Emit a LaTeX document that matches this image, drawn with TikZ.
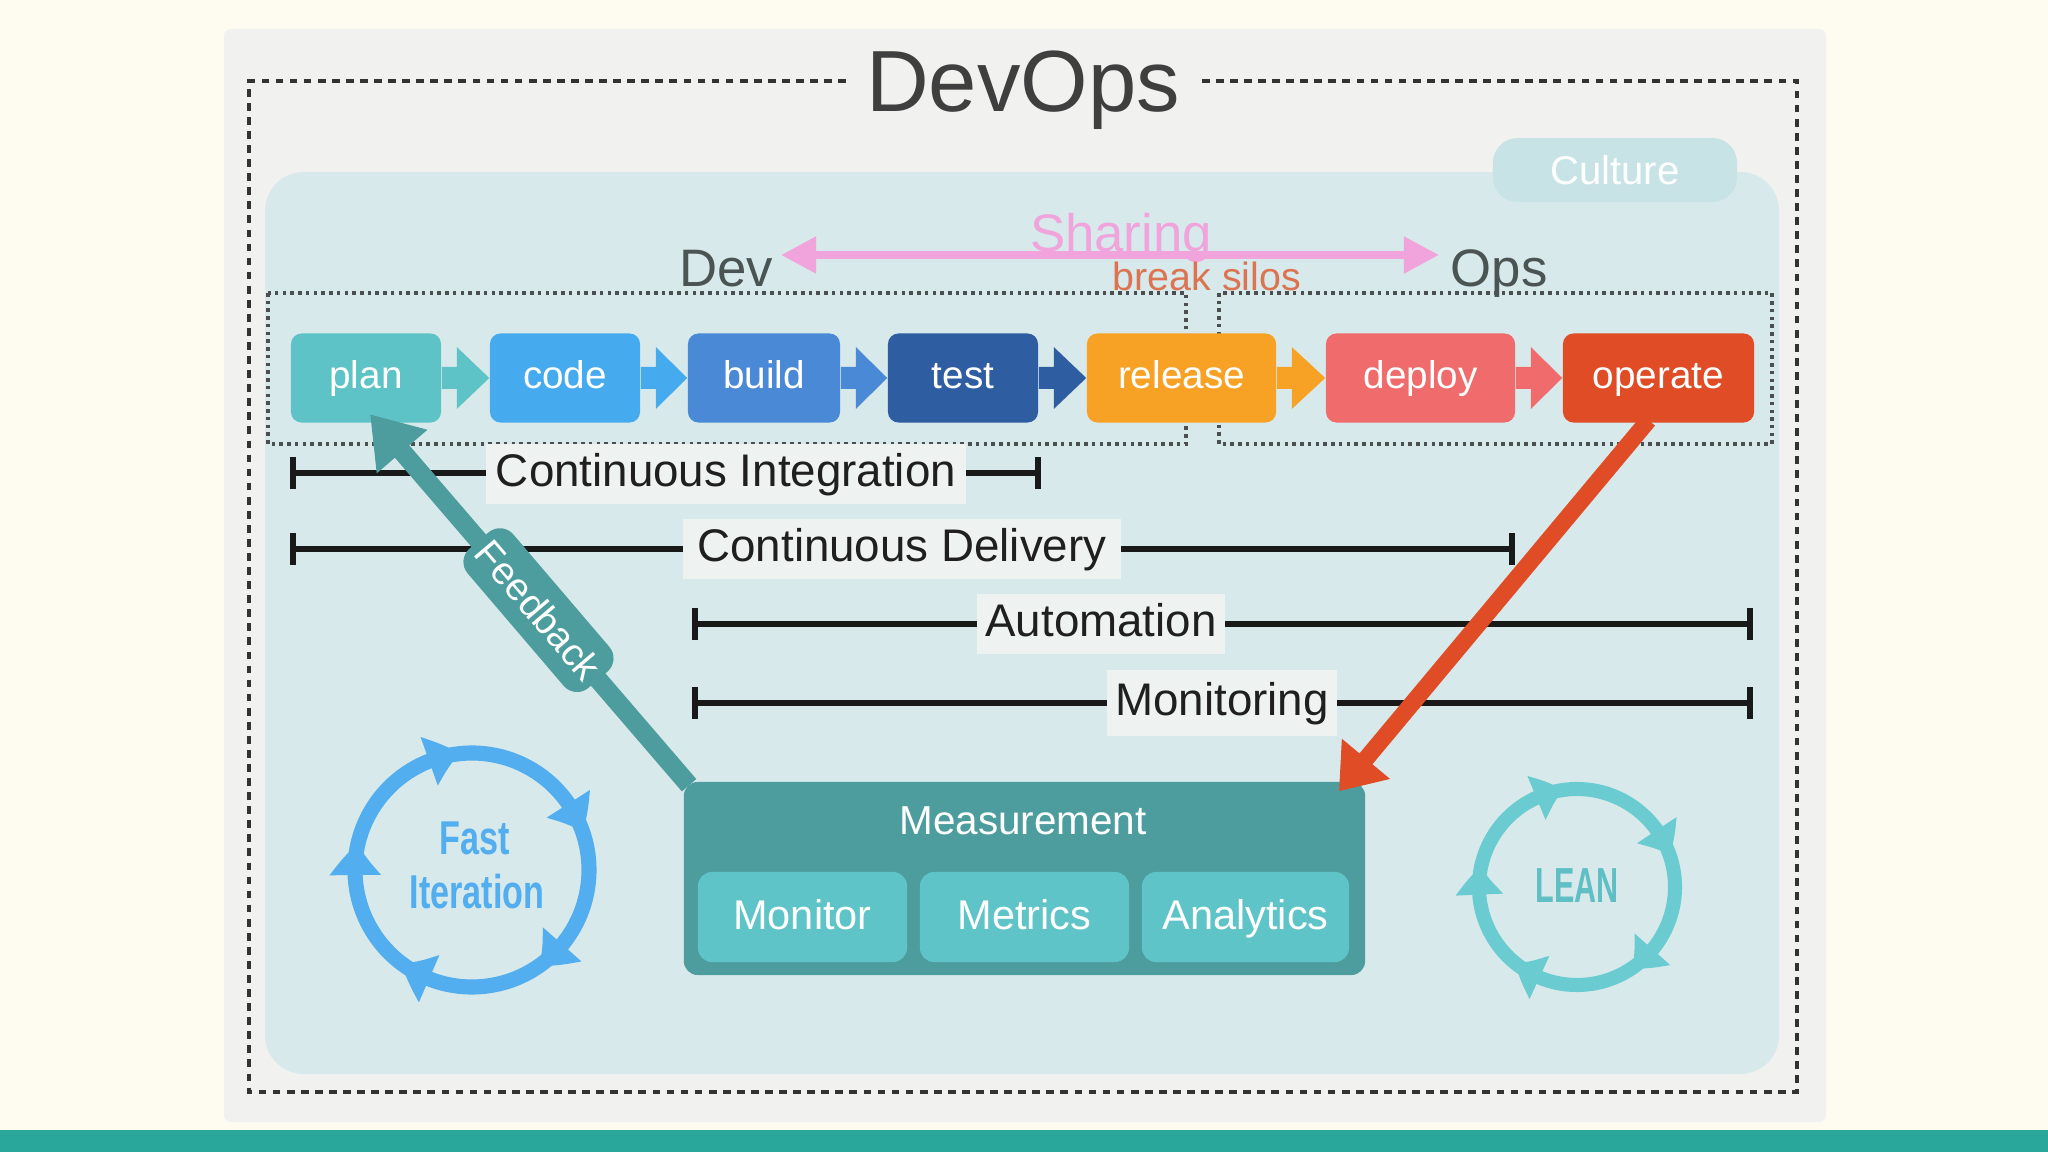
\documentclass[tikz,border=0pt]{standalone}
\usepackage{fontspec}
\setmainfont{Liberation Sans}
\usetikzlibrary{arrows.meta,calc,bending}

\definecolor{cbg}{HTML}{FEFBF0}
\definecolor{cband}{HTML}{29A79B}
\definecolor{cpanel}{HTML}{F1F2F0}
\definecolor{cregion}{HTML}{D8E9EB}
\definecolor{cculture}{HTML}{C8E3E5}
\definecolor{ctitle}{HTML}{3F3F3F}
\definecolor{cdev}{HTML}{4A5453}
\definecolor{cpink}{HTML}{F0A4DB}
\definecolor{cbreak}{HTML}{DC7452}
\definecolor{cplan}{HTML}{5DC3C6}
\definecolor{ccode}{HTML}{45AAEE}
\definecolor{cbuild}{HTML}{4A89D5}
\definecolor{ctest}{HTML}{2F5DA2}
\definecolor{crelease}{HTML}{F7A224}
\definecolor{cdeploy}{HTML}{EF6B6C}
\definecolor{coperate}{HTML}{E04C25}
\definecolor{clabel}{HTML}{EEF3F2}
\definecolor{cmeas}{HTML}{4D9D9E}
\definecolor{csub}{HTML}{5EC4C8}
\definecolor{cfast}{HTML}{52AEEE}
\definecolor{clean}{HTML}{6ACBD0}
\definecolor{cleantext}{HTML}{5FBFC4}
\definecolor{cdot}{HTML}{4A5050}

\begin{document}
\begin{tikzpicture}[x=0.01cm,y=-0.01cm,
  pbox/.style={rounded corners=3pt, minimum height=0.89cm, text=white,
    font=\fontsize{11}{13}\selectfont, text height=0.8em, text depth=0.2em, inner sep=0pt},
  barline/.style={line width=1.7pt, draw=black!90, arrows={Bar[width=9pt]-Bar[width=9pt]}},
  barlabel/.style={fill=clabel, text=black!88, font=\fontsize{13}{15}\selectfont,
    text height=0.86em, text depth=0.14em, inner sep=0pt},
  dotbox/.style={draw=cdot, line width=1pt, dash pattern=on 1pt off 1.2pt},
  subbox/.style={fill=csub, rounded corners=4pt, minimum height=0.90cm, text=white,
    font=\fontsize{11.8}{14}\selectfont, text height=0.86em, text depth=0.14em, inner sep=0pt},
  fastring/.style={draw=cfast, line width=4.3pt, -{Triangle[length=9pt,width=14pt,bend]}},
  leanring/.style={draw=clean, line width=4pt, -{Triangle[length=8pt,width=13pt,bend]}},
]
% background
\fill[cbg] (0,0) rectangle (2048,1152);
\fill[cband] (0,1130) rectangle (2048,1152);
\fill[cpanel, rounded corners=2pt] (224,29) rectangle (1826,1122);

% outer dashed frame with title gap
\draw[draw=black!80, line width=1.1pt, dash pattern=on 2.2pt off 1.8pt]
  (846,81) -- (249,81) -- (249,1092) -- (1797,1092) -- (1797,81) -- (1201,81);
\node[font=\fontsize{24.7}{28}\selectfont, text=ctitle, anchor=base] (title) at (1023,112) {DevOps};

% culture region
\fill[cregion, rounded corners=11pt] (265,172) rectangle (1779,1074);
\node[rounded corners=7pt, fill=cculture, minimum width=2.44cm, minimum height=0.64cm,
  text=white, font=\fontsize{11.4}{13}\selectfont, inner sep=0pt] (culture) at (1615,170) {Culture};

% dotted dev / ops frames
\draw[dotbox] (268,293) rectangle (1186,444);
\draw[dotbox] (1219,293) rectangle (1772,444);

% sharing
\coordinate (shl) at (781,255);
\coordinate (shr) at (1439,255);
\draw[draw=cpink, line width=2.2pt, {Triangle[length=10pt,width=10pt]}-{Triangle[length=10pt,width=10pt]}] (shl) -- (shr);
\node[anchor=base, font=\fontsize{15}{17}\selectfont, text=cpink] (sharing) at (1121,252) {Sharing};
\node[anchor=base, font=\fontsize{15}{17}\selectfont, text=cdev] (dev) at (726,287) {Dev};
\node[anchor=base, font=\fontsize{15}{17}\selectfont, text=cdev] (ops) at (1499,287) {Ops};
\node[anchor=base, font=\fontsize{11.2}{13}\selectfont, text=cbreak] (silos) at (1207,291) {break silos};

% process boxes
\node[pbox, fill=cplan, minimum width=1.50cm] (plan) at (366,378) {plan};
\node[pbox, fill=ccode, minimum width=1.50cm] (code) at (565,378) {code};
\node[pbox, fill=cbuild, minimum width=1.52cm] (build) at (764,378) {build};
\node[pbox, fill=ctest, minimum width=1.50cm] (test) at (963,378) {test};
\node[pbox, fill=crelease, minimum width=1.89cm] (release) at (1181.5,378) {release};
\node[pbox, fill=cdeploy, minimum width=1.89cm] (deploy) at (1420.5,378) {deploy};
\node[pbox, fill=coperate, minimum width=1.91cm] (operate) at (1658.5,378) {operate};

% chevrons
\foreach \a/\b/\c in {plan/code/cplan, code/build/ccode, build/test/cbuild,
                      test/release/ctest, release/deploy/crelease, deploy/operate/cdeploy}{
  \fill[\c] ($(\a.east)+(0,-11)$) -- ++(15,0) -- ++(0,-20) -- (\b.west)
            -- ($(\a.east)+(15,31)$) -- ++(0,-20) -- ($(\a.east)+(0,11)$) -- cycle;
}

% bars
\coordinate (cil) at (290,473); \coordinate (cir) at (1041,473);
\coordinate (cdl) at (290,549); \coordinate (cdr) at (1515,549);
\coordinate (aul) at (692,624); \coordinate (aur) at (1753,624);
\coordinate (mol) at (692,703); \coordinate (mor) at (1753,703);
\draw[barline] (cil) -- (cir);
\draw[barline] (cdl) -- (cdr);
\draw[barline] (aul) -- (aur);
\draw[barline] (mol) -- (mor);
\node[barlabel, minimum width=4.79cm, minimum height=0.60cm] (ci) at (726,474) {Continuous Integration};
\node[barlabel, minimum width=4.38cm, minimum height=0.59cm] (cd) at (902,549) {Continuous Delivery};
\node[barlabel, minimum width=2.48cm, minimum height=0.59cm] (auto) at (1101,624) {Automation};
\node[barlabel, minimum width=2.30cm, minimum height=0.65cm] (moni) at (1222,703) {Monitoring};

% fast iteration cycle
\coordinate (fastc) at (472,870);
\foreach \a/\b in {-111/-34,-34/40,40/112,112/178,178/249}
  \draw[fastring] (fastc) ++(\a:117) arc[start angle=\a, end angle=\b+15, radius=117];
\node[font=\fontsize{13.5}{15}\selectfont\bfseries, text=cfast, inner sep=0pt] (fast1) at (475,838) {\scalebox{0.72}[1]{Fast}};
\node[font=\fontsize{13.5}{15}\selectfont\bfseries, text=cfast, inner sep=0pt] (fast2) at (477,892) {\scalebox{0.72}[1]{Iteration}};

% lean cycle
\coordinate (leanc) at (1577,887);
\foreach \a/\b in {-114/-35,-35/40,40/113,113/176,176/246}
  \draw[leanring] (leanc) ++(\a:98) arc[start angle=\a, end angle=\b+16, radius=98];
\node[font=\fontsize{14}{16}\selectfont\bfseries, text=cleantext, inner sep=0pt] (lean) at (1577,886) {\scalebox{0.62}[1]{LEAN}};

% measurement
\node[fill=cmeas, rounded corners=4pt, minimum width=6.81cm, minimum height=1.93cm, inner sep=0pt] (meas) at (1024.5,878.5) {};
\node[text=white, font=\fontsize{11.5}{13}\selectfont, inner sep=0pt] (meastitle) at (1023,821) {Measurement};
\node[subbox, minimum width=2.09cm] (monitor) at (802.5,917) {Monitor};
\node[subbox, minimum width=2.09cm] (metrics) at (1024.5,917) {Metrics};
\node[subbox, minimum width=2.07cm] (analytics) at (1245.5,917) {Analytics};

% feedback arrow
\coordinate (fbs) at ($(meas.north west)+(6,4)$);
\coordinate (fbt) at ($(plan.south)+(4,-9)$);
\draw[draw=cmeas, line width=5.4pt, -{Triangle[length=14pt,width=18pt]}] (fbs) -- (fbt);
\node[fill=cmeas, rounded corners=5pt, rotate=-49.5, minimum width=1.83cm, minimum height=0.60cm,
  text=white, font=\fontsize{11}{13}\selectfont, inner sep=0pt] (fb) at ($(fbs)!0.472!(fbt)$) {Feedback};

% operate -> measurement arrow
\coordinate (rs) at ($(operate.south)+(-10,-3)$);
\coordinate (rt) at ($(meas.north east)+(-27,10)$);
\draw[draw=coperate, line width=4.8pt, -{Triangle[length=12pt,width=17pt]}] (rs) -- (rt);
\end{tikzpicture}
\end{document}
